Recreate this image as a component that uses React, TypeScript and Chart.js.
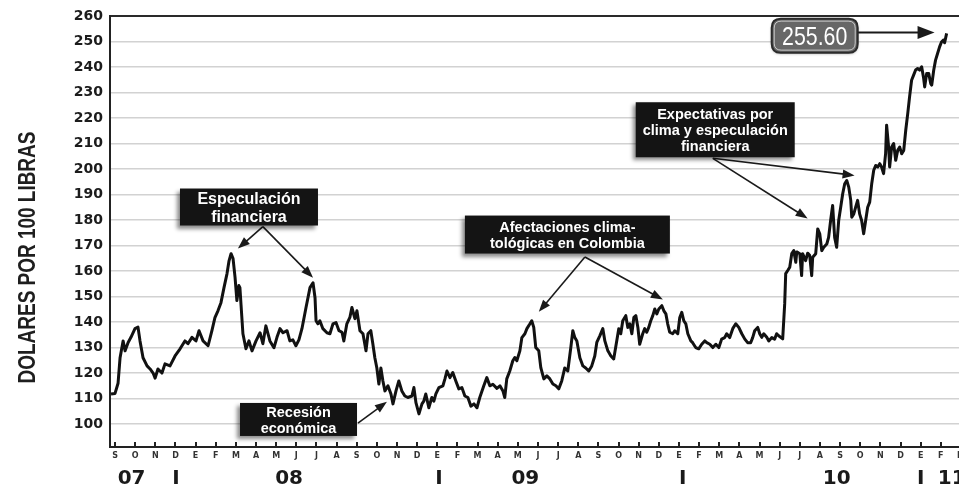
import React, { useEffect, useRef } from 'react';
import { Chart, registerables } from 'chart.js';

Chart.register(...registerables);

// Month categories, Sep 2007 -> Mar 2011 (index 0 = S 2007)
const months = [
  'S', 'O', 'N', 'D',
  'E', 'F', 'M', 'A', 'M', 'J', 'J', 'A', 'S', 'O', 'N', 'D',
  'E', 'F', 'M', 'A', 'M', 'J', 'J', 'A', 'S', 'O', 'N', 'D',
  'E', 'F', 'M', 'A', 'M', 'J', 'J', 'A', 'S', 'O', 'N', 'D',
  'E', 'F', 'M',
];

// Year row under the months
const yearLabels = ['07', 'I', '08', 'I', '09', 'I', '10', 'I', '11'];
const yearPos = [0.82, 3.03, 8.64, 16.08, 20.37, 28.19, 35.83, 40.0, 41.54];

// Y tick labels
const yTicks = [100, 110, 120, 130, 140, 150, 160, 170, 180, 190, 200, 210, 220, 230, 240, 250, 260];

// Series: position in months since Sep 2007, price (US$ per 100 lb)
const monthPos = [
  -0.2, 0.0, 0.15, 0.25, 0.4, 0.5, 0.65, 0.79, 0.99, 1.14, 1.24, 1.39, 1.59, 1.74, 1.89, 1.99,
  2.13, 2.33, 2.48, 2.73, 2.98, 3.23, 3.47, 3.62, 3.82, 4.02, 4.17, 4.37, 4.62, 4.81, 4.96, 5.11,
  5.26, 5.41, 5.56, 5.66, 5.76, 5.86, 5.96, 6.05, 6.15, 6.2, 6.35, 6.5, 6.65, 6.8, 7.0, 7.2,
  7.34, 7.49, 7.69, 7.89, 8.04, 8.19, 8.34, 8.54, 8.68, 8.83, 8.98, 9.13, 9.28, 9.48, 9.68, 9.83,
  9.93, 9.98, 10.07, 10.17, 10.32, 10.52, 10.67, 10.82, 10.97, 11.12, 11.27, 11.36, 11.51, 11.66, 11.76, 11.91,
  12.01, 12.16, 12.31, 12.46, 12.56, 12.7, 12.8, 12.9, 13.0, 13.1, 13.2, 13.3, 13.4, 13.55, 13.7, 13.8,
  13.95, 14.09, 14.24, 14.39, 14.54, 14.74, 14.84, 14.94, 15.09, 15.24, 15.33, 15.43, 15.58, 15.73, 15.83, 15.93,
  16.08, 16.28, 16.38, 16.48, 16.63, 16.77, 16.92, 17.07, 17.22, 17.37, 17.52, 17.67, 17.82, 17.97, 18.11, 18.31,
  18.46, 18.61, 18.76, 18.96, 19.11, 19.26, 19.35, 19.45, 19.6, 19.75, 19.85, 19.95, 20.1, 20.2, 20.35, 20.45,
  20.6, 20.69, 20.79, 20.89, 21.04, 21.14, 21.29, 21.44, 21.59, 21.74, 21.89, 22.03, 22.18, 22.33, 22.48, 22.63,
  22.73, 22.83, 22.93, 23.08, 23.23, 23.37, 23.52, 23.67, 23.82, 23.92, 24.07, 24.22, 24.32, 24.47, 24.62, 24.76,
  24.91, 25.01, 25.11, 25.21, 25.36, 25.46, 25.56, 25.66, 25.76, 25.86, 25.96, 26.05, 26.2, 26.3, 26.4, 26.5,
  26.6, 26.7, 26.8, 26.9, 27.0, 27.15, 27.25, 27.35, 27.44, 27.54, 27.69, 27.79, 27.94, 28.04, 28.14, 28.24,
  28.34, 28.44, 28.59, 28.68, 28.83, 28.98, 29.13, 29.28, 29.38, 29.53, 29.68, 29.83, 29.98, 30.12, 30.27, 30.37,
  30.52, 30.67, 30.82, 30.97, 31.12, 31.27, 31.41, 31.56, 31.66, 31.76, 31.91, 32.01, 32.11, 32.21, 32.36, 32.46,
  32.61, 32.75, 32.85, 32.95, 33.15, 33.25, 33.3, 33.4, 33.5, 33.6, 33.7, 33.8, 33.85, 34.0, 34.09, 34.14,
  34.29, 34.39, 34.49, 34.59, 34.64, 34.79, 34.89, 34.99, 35.09, 35.19, 35.34, 35.43, 35.53, 35.63, 35.73, 35.83,
  35.93, 36.03, 36.13, 36.23, 36.33, 36.43, 36.53, 36.58, 36.68, 36.77, 36.87, 36.97, 37.07, 37.17, 37.27, 37.37,
  37.47, 37.57, 37.67, 37.77, 37.87, 37.97, 38.06, 38.16, 38.26, 38.31, 38.41, 38.46, 38.56, 38.66, 38.76, 38.86,
  38.96, 39.06, 39.16, 39.26, 39.36, 39.45, 39.55, 39.65, 39.75, 39.85, 39.95, 40.05, 40.15, 40.2, 40.3, 40.4,
  40.5, 40.55, 40.65, 40.74, 40.84, 40.94, 41.04, 41.14, 41.19, 41.29,
];

const prices = [
  111.8, 112, 116, 126, 132.6, 128.7, 132, 134, 137.4, 138, 132.6, 126, 122.8, 121.6, 120, 118,
  121.6, 120, 123.6, 122.8, 126.7, 129.5, 132.6, 131.5, 134, 132.6, 136.6, 132.6, 130.7, 136.6, 141.7, 144.4,
  147.6, 153.5, 159, 164, 166.8, 164.9, 157.4, 148.4, 154.3, 153.5, 135.4, 129.5, 132.6, 128.7, 132.6, 135.8,
  131.5, 138.5, 132.6, 129.9, 134, 137.4, 135.8, 136.6, 132.6, 133, 130.7, 133, 137.4, 145.6, 153.5, 155.4,
  149.5, 140.5, 139.3, 140.5, 137.4, 135.8, 135.4, 139.3, 139.8, 136.6, 136, 132.6, 139.3, 141.8, 145.7, 141.3,
  144.4, 136.6, 135.4, 128.7, 135.4, 136.6, 131.5, 126, 122, 115.7, 122, 116.9, 113, 115, 111.8, 107.9,
  113, 116.9, 113, 111, 110.4, 111, 114.3, 108.4, 104, 107.9, 109, 111.8, 106.4, 110.4, 109, 111.8,
  114.3, 115, 117.7, 120.8, 118.2, 120.2, 116.9, 113.8, 114.3, 111, 110.4, 107, 107.9, 106.4, 110.4, 115,
  118.2, 115, 115.6, 114, 115, 113, 110.4, 117.7, 120.8, 124.8, 126.1, 124.8, 128.7, 133.9, 135.4, 137.4,
  139.3, 140.5, 137.9, 130, 128.7, 122.1, 117.7, 118.9, 117.7, 115.7, 115, 113.8, 116.9, 122, 120.8, 130,
  136.6, 133.9, 132.6, 126, 122.8, 122, 120.8, 122.8, 126.7, 132, 134.6, 137.4, 132.6, 128.7, 126.7, 125.5,
  132.6, 137.4, 135.4, 140.5, 142.5, 137.9, 139.3, 135.4, 141.8, 142.5, 137.9, 131.3, 135.4, 137.4, 136, 137.9,
  140.5, 142.5, 145.1, 143.2, 145.1, 146.4, 144.4, 143.2, 139.3, 136, 135.4, 136.6, 135.4, 141.8, 143.8, 140.5,
  139.3, 135.4, 132.6, 131.9, 130, 129.5, 131.3, 132.6, 131.9, 131.3, 130, 131.3, 130, 133.3, 133.9, 135.4,
  133.9, 137.4, 139.3, 137.9, 135.4, 133.3, 131.9, 131.9, 133.9, 136.6, 137.9, 135.4, 134, 135.4, 134, 132.6,
  133.9, 133.3, 135.4, 134.6, 133.4, 147.2, 159, 160.2, 161.5, 166.8, 168, 163.4, 167.5, 166.8, 158.2, 166.8,
  164.1, 167, 166.2, 158.2, 165.4, 166.8, 176.5, 174.6, 168, 169.3, 170.6, 173.2, 179.8, 185.7, 173.2, 169.3,
  179.8, 185, 190.3, 194.2, 195.5, 192.9, 187.7, 181.1, 182.4, 185, 187.7, 182.4, 179.8, 174.6, 179.8, 185,
  187, 194.2, 199.5, 201.4, 200.8, 202.1, 200.8, 198.2, 206, 217.2, 208.6, 200.8, 208.6, 210, 203.4, 207.3,
  208.6, 206, 207.3, 215.2, 221.8, 228.3, 234.8, 236.8, 238.8, 239.4, 238.8, 240.1, 235.5, 232.2, 237.5, 237.5,
  233.5, 232.9, 238.8, 242.7, 245.3, 247.9, 249.9, 250.6, 249.5, 253.2,
];

// Callout boxes (anchored in data coordinates)
const notes = [
  { lines: ['Especulación', 'financiera'], at: [6.65, 185.1], w: 138, h: 37, size: 16, gap: 18,
    from: [7.34, 177.4], to: [[6.1, 168.8], [9.83, 157.4]] },
  { lines: ['Afectaciones clima-', 'tológicas en Colombia'], at: [22.46, 174.3], w: 205, h: 38, size: 14.5, gap: 16,
    from: [23.33, 165.5], to: [[21.04, 144.0], [27.2, 148.8]] },
  { lines: ['Expectativas por', 'clima y especulación', 'financiera'], at: [29.8, 215.4], w: 159, h: 55, size: 14.5, gap: 16,
    from: [29.68, 204.2], to: [[36.72, 197.5], [34.39, 180.6]] },
  { lines: ['Recesión', 'económica'], at: [9.11, 101.8], w: 117, h: 33, size: 14.5, gap: 16,
    from: [12.06, 100.4], to: [[13.5, 108.7]] },
];
const lastLabel = '255.60';
const lastLabelAt = [34.74, 252.3];
const lastArrow = [[36.87, 253.5], [40.69, 253.5]];

function drawArrow(ctx: CanvasRenderingContext2D, x1: number, y1: number, x2: number, y2: number, len: number, hw: number) {
  const a = Math.atan2(y2 - y1, x2 - x1);
  const c = Math.cos(a), s = Math.sin(a);
  ctx.beginPath();
  ctx.moveTo(x1, y1);
  ctx.lineTo(x2 - c * len * 0.7, y2 - s * len * 0.7);
  ctx.stroke();
  ctx.beginPath();
  ctx.moveTo(x2, y2);
  ctx.lineTo(x2 - c * len + s * hw, y2 - s * len - c * hw);
  ctx.lineTo(x2 - c * len - s * hw, y2 - s * len + c * hw);
  ctx.closePath();
  ctx.fill();
}

function roundRect(ctx: CanvasRenderingContext2D, x: number, y: number, w: number, h: number, r: number) {
  ctx.beginPath();
  ctx.moveTo(x + r, y);
  ctx.lineTo(x + w - r, y);
  ctx.quadraticCurveTo(x + w, y, x + w, y + r);
  ctx.lineTo(x + w, y + h - r);
  ctx.quadraticCurveTo(x + w, y + h, x + w - r, y + h);
  ctx.lineTo(x + r, y + h);
  ctx.quadraticCurveTo(x, y + h, x, y + h - r);
  ctx.lineTo(x, y + r);
  ctx.quadraticCurveTo(x, y, x + r, y);
  ctx.closePath();
}

const decorPlugin = {
  id: 'decor',
  afterDraw(chart: any) {
    const ctx: CanvasRenderingContext2D = chart.ctx;
    const xs = chart.scales.x;
    const ys = chart.scales.y;
    const px = (v: number) => xs.getPixelForValue(v);
    const py = (v: number) => ys.getPixelForValue(v);
    const area = chart.chartArea;

    ctx.save();
    // small month marks on the axis
    ctx.fillStyle = '#222';
    months.forEach((_, i) => {
      const x = Math.round(px(i));
      ctx.fillRect(x - 1, area.bottom - 5, 2, 4);
    });

    // y axis title
    ctx.save();
    ctx.translate(26.5, (area.top + area.bottom) / 2 + 26);
    ctx.rotate(-Math.PI / 2);
    ctx.scale(0.79, 1);
    ctx.font = 'bold 24px "Liberation Sans", Arial, sans-serif';
    ctx.fillStyle = '#1e1e1e';
    ctx.textAlign = 'center';
    ctx.textBaseline = 'alphabetic';
    ctx.fillText('DOLARES POR 100 LIBRAS', 0, 8.6);
    ctx.restore();

    // arrows
    ctx.strokeStyle = '#1a1a1a';
    ctx.fillStyle = '#1a1a1a';
    ctx.lineWidth = 1.6;
    notes.forEach((n) => {
      n.to.forEach((t) => {
        drawArrow(ctx, px(n.from[0]), py(n.from[1]), px(t[0]), py(t[1]), 12, 4.5);
      });
    });
    ctx.lineWidth = 2;
    drawArrow(ctx, px(lastArrow[0][0]), py(lastArrow[0][1]), px(lastArrow[1][0]), py(lastArrow[1][1]), 17, 6.5);

    // callout boxes
    notes.forEach((n) => {
      const cx = px(n.at[0]);
      const cy = py(n.at[1]);
      ctx.save();
      ctx.shadowColor = 'rgba(0,0,0,0.45)';
      ctx.shadowBlur = 4;
      ctx.shadowOffsetX = -3;
      ctx.shadowOffsetY = 3;
      ctx.fillStyle = '#141414';
      ctx.fillRect(cx - n.w / 2, cy - n.h / 2, n.w, n.h);
      ctx.restore();
      ctx.fillStyle = '#ffffff';
      ctx.font = `bold ${n.size}px "Liberation Sans", Arial, sans-serif`;
      ctx.textAlign = 'center';
      ctx.textBaseline = 'alphabetic';
      const cap = n.size * 0.716;
      const k = n.lines.length;
      n.lines.forEach((line, i) => {
        const ly = cy + (i - (k - 1) / 2) * n.gap + cap / 2;
        ctx.fillText(line, cx, ly);
      });
    });

    // last value label
    const lx = px(lastLabelAt[0]);
    const ly = py(lastLabelAt[1]);
    const bw = 86, bh = 34;
    ctx.save();
    ctx.shadowColor = 'rgba(0,0,0,0.35)';
    ctx.shadowBlur = 3;
    ctx.shadowOffsetY = 1;
    roundRect(ctx, lx - bw / 2, ly - bh / 2, bw, bh, 9);
    ctx.fillStyle = '#676767';
    ctx.fill();
    ctx.restore();
    roundRect(ctx, lx - bw / 2, ly - bh / 2, bw, bh, 9);
    ctx.strokeStyle = '#2b2b2b';
    ctx.lineWidth = 2;
    ctx.stroke();
    roundRect(ctx, lx - bw / 2 + 2.5, ly - bh / 2 + 2.5, bw - 5, bh - 5, 7);
    ctx.strokeStyle = 'rgba(235,235,235,0.75)';
    ctx.lineWidth = 1;
    ctx.stroke();
    ctx.save();
    ctx.translate(lx, ly);
    ctx.scale(0.82, 1);
    ctx.fillStyle = '#ffffff';
    ctx.font = '26px "Liberation Sans", Arial, sans-serif';
    ctx.textAlign = 'center';
    ctx.textBaseline = 'alphabetic';
    ctx.fillText(lastLabel, 0, 9.5);
    ctx.restore();

    ctx.restore();
  },
};

export default function App() {
  const ref = useRef<HTMLCanvasElement | null>(null);

  useEffect(() => {
    if (!ref.current) return;
    const data = monthPos.map((m, i) => ({ x: m, y: prices[i] }));
    const chart = new Chart(ref.current, {
      type: 'line',
      data: {
        datasets: [
          {
            data,
            xAxisID: 'x',
            yAxisID: 'y',
            borderColor: '#111111',
            borderWidth: 3,
            pointRadius: 0,
            tension: 0,
            borderJoinStyle: 'round',
            fill: false,
          },
        ],
      },
      options: {
        responsive: false,
        animation: false,
        events: [],
        layout: { padding: { top: 16, right: 4, bottom: 0, left: 0 } },
        plugins: {
          legend: { display: false },
          tooltip: { enabled: false },
        },
        scales: {
          x: {
            type: 'linear',
            position: 'bottom',
            weight: 0,
            min: -0.25,
            max: 42.5,
            afterBuildTicks: (s: any) => {
              s.ticks = months.map((_, i) => ({ value: i }));
            },
            afterFit: (s: any) => {
              s.height = 17;
            },
            grid: { drawOnChartArea: false, drawTicks: false },
            border: { display: true, color: '#222', width: 2 },
            ticks: {
              autoSkip: false,
              maxRotation: 0,
              minRotation: 0,
              padding: 4,
              color: '#333',
              font: { family: '"DejaVu Sans", sans-serif', size: 8, weight: 'bold' },
              callback: (v: any) => months[Math.round(Number(v))] ?? '',
            },
          },
          x2: {
            type: 'linear',
            position: 'bottom',
            weight: 1,
            min: -0.25,
            max: 42.5,
            afterBuildTicks: (s: any) => {
              s.ticks = yearPos.map((p) => ({ value: p }));
            },
            afterFit: (s: any) => {
              s.height = 26;
            },
            grid: { display: false, drawTicks: false },
            border: { display: false },
            ticks: {
              autoSkip: false,
              maxRotation: 0,
              minRotation: 0,
              padding: 3,
              color: '#1a1a1a',
              font: { family: '"DejaVu Sans", sans-serif', size: 20, weight: 'bold' },
              callback: (_v: any, i: number) => yearLabels[i] ?? '',
            },
          },
          y: {
            type: 'linear',
            position: 'left',
            min: 91,
            max: 260,
            afterBuildTicks: (s: any) => {
              s.ticks = yTicks.map((v) => ({ value: v }));
            },
            afterFit: (s: any) => {
              s.width = 110;
            },
            grid: {
              drawTicks: false,
              color: (c: any) => (c.tick && c.tick.value === 260 ? '#2a2a2a' : '#d2d2d2'),
              lineWidth: (c: any) => (c.tick && c.tick.value === 260 ? 2 : 1.5),
            },
            border: { display: true, color: '#222', width: 2 },
            ticks: {
              padding: 7,
              color: '#1c1c1c',
              font: { family: '"DejaVu Sans", sans-serif', size: 14, weight: 'bold' },
              callback: (v: any) => String(v),
            },
          },
        },
      } as any,
      plugins: [decorPlugin],
    });
    return () => chart.destroy();
  }, []);

  return (
    <div
      style={{
        position: 'fixed',
        left: 0,
        top: 0,
        width: 959,
        height: 490,
        overflow: 'hidden',
        background: '#ffffff',
      }}
    >
      <canvas ref={ref} width={975} height={490} style={{ display: 'block' }} />
    </div>
  );
}
